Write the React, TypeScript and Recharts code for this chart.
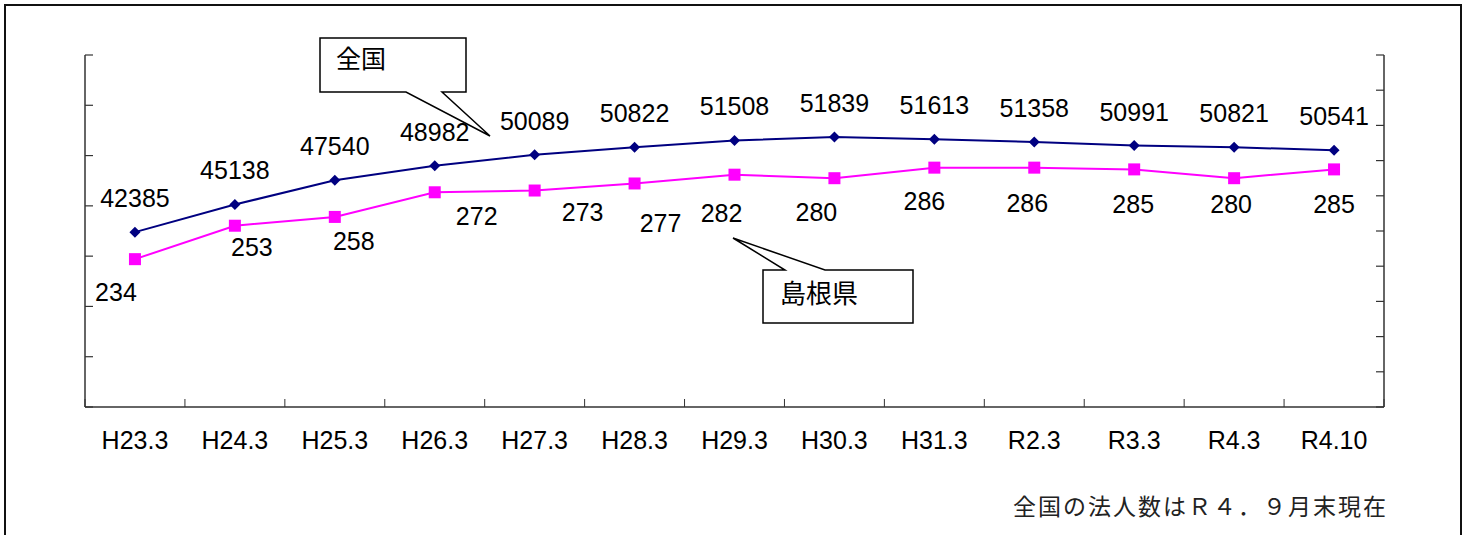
import React from 'react';
import { LineChart, Line, XAxis, YAxis, LabelList } from 'recharts';

// ---- data ----
const periods = ['H23.3', 'H24.3', 'H25.3', 'H26.3', 'H27.3', 'H28.3', 'H29.3', 'H30.3', 'H31.3', 'R2.3', 'R3.3', 'R4.3', 'R4.10'];
const nationalCounts = [42385, 45138, 47540, 48982, 50089, 50822, 51508, 51839, 51613, 51358, 50991, 50821, 50541];
const shimaneCounts = [234, 253, 258, 272, 273, 277, 282, 280, 286, 286, 285, 280, 285];
const nationalTicks = [25000, 30000, 35000, 40000, 45000, 50000, 55000, 60000];
const shimaneTicks = [150, 170, 190, 210, 230, 250, 270, 290, 310, 330, 350];
const nationalName = '全国';
const shimaneName = '島根県';
const footnote = '全国の法人数はＲ４．９月末現在';

// ---- layout (label nudges relative to each point, as placed in the original) ----
const shimaneLabelNudge: [number, number][] = [
  [-19, 33], [17, 21], [19, 24], [42, 24], [48, 21], [26, 40], [-13, 38],
  [-18, 34], [-10, 33], [-7, 35], [-1, 35], [-3, 26], [0, 35],
];
const NATIONAL_LABEL_DY = -34;

const CHART_W = 1469;
const CHART_H = 535;
const MARGIN = { top: 55, right: 85, bottom: 68, left: 85 };
const X_AXIS_H = 60;
const X_TICK_MARGIN = 33;
const PLOT_W = CHART_W - MARGIN.left - MARGIN.right;
const AXIS_COLOR = '#333';
const LABEL_FONT = '"Liberation Sans", Arial, sans-serif';
const CJK_FONT = '"Noto Sans CJK JP", sans-serif';

const data = periods.map((period, i) => ({
  period,
  national: nationalCounts[i],
  shimane: shimaneCounts[i],
}));

const CategoryTick = (props: any) => {
  const { x, y, payload, index } = props;
  const band = PLOT_W / periods.length;
  const axisY = y - X_TICK_MARGIN;
  return (
    <g>
      <line x1={x - band / 2} x2={x - band / 2} y1={axisY} y2={axisY - 8} stroke={AXIS_COLOR} strokeWidth={1} />
      {index === periods.length - 1 && (
        <line x1={x + band / 2} x2={x + band / 2} y1={axisY} y2={axisY - 8} stroke={AXIS_COLOR} strokeWidth={1} />
      )}
      <text x={x} y={y} textAnchor="middle" dominantBaseline="central" fontSize={25} fontFamily={LABEL_FONT} fill="#000">
        {payload.value}
      </text>
    </g>
  );
};

const EmptyTick = () => <g />;

const DiamondDot = (props: any) => {
  const { cx, cy, index } = props;
  if (cx == null || cy == null) return null;
  const r = 5.5;
  return (
    <polygon
      key={`d-${index}`}
      points={`${cx},${cy - r} ${cx + r},${cy} ${cx},${cy + r} ${cx - r},${cy}`}
      fill="#000080"
    />
  );
};

const SquareDot = (props: any) => {
  const { cx, cy, index } = props;
  if (cx == null || cy == null) return null;
  const s = 12;
  return <rect key={`s-${index}`} x={cx - s / 2} y={cy - s / 2} width={s} height={s} fill="#FF00FF" />;
};

const pt = (p: any) => ({
  x: p.x ?? p.viewBox?.x,
  y: p.y ?? p.viewBox?.y,
});

const nationalLabel = (p: any) => {
  const { x, y } = pt(p);
  if (x == null || y == null) return null;
  return (
    <text x={x} y={y + NATIONAL_LABEL_DY} textAnchor="middle" dominantBaseline="central" fontSize={25} fontFamily={LABEL_FONT} fill="#000">
      {p.value}
    </text>
  );
};

const shimaneLabel = (p: any) => {
  const { x, y } = pt(p);
  if (x == null || y == null) return null;
  const [dx, dy] = shimaneLabelNudge[p.index] ?? [0, 30];
  return (
    <text x={x + dx} y={y + dy} textAnchor="middle" dominantBaseline="central" fontSize={25} fontFamily={LABEL_FONT} fill="#000">
      {p.value}
    </text>
  );
};

export default function App() {
  return (
    <div style={{ position: 'absolute', left: 0, top: 0, width: CHART_W, height: CHART_H, overflow: 'hidden', background: '#fff' }}>
      <div style={{ position: 'absolute', left: 4, top: 4, width: 1454, height: 600, border: '2px solid #111' }} />
      <div style={{ position: 'absolute', left: 0, top: 0 }}>
        <LineChart width={CHART_W} height={CHART_H} data={data} margin={MARGIN} style={{ fontFamily: LABEL_FONT }}>
          <XAxis
            dataKey="period"
            scale="band"
            height={X_AXIS_H}
            interval={0}
            tickLine={false}
            tickSize={0}
            tickMargin={X_TICK_MARGIN}
            tick={<CategoryTick />}
            axisLine={{ stroke: AXIS_COLOR, strokeWidth: 1.5 }}
          />
          <YAxis
            yAxisId="national"
            orientation="left"
            mirror
            width={20}
            domain={[25000, 60000]}
            ticks={nationalTicks}
            interval={0}
            allowDataOverflow
            tick={<EmptyTick />}
            tickSize={8}
            tickLine={{ stroke: AXIS_COLOR, strokeWidth: 1.2 }}
            axisLine={{ stroke: AXIS_COLOR, strokeWidth: 1.5 }}
          />
          <YAxis
            yAxisId="shimane"
            orientation="right"
            mirror
            width={20}
            domain={[150, 350]}
            ticks={shimaneTicks}
            interval={0}
            allowDataOverflow
            tick={<EmptyTick />}
            tickSize={8}
            tickLine={{ stroke: AXIS_COLOR, strokeWidth: 1.2 }}
            axisLine={{ stroke: AXIS_COLOR, strokeWidth: 1.5 }}
          />
          <Line
            yAxisId="national"
            dataKey="national"
            name={nationalName}
            stroke="#000080"
            strokeWidth={2}
            dot={<DiamondDot />}
            activeDot={false}
            isAnimationActive={false}
          >
            <LabelList dataKey="national" content={nationalLabel} />
          </Line>
          <Line
            yAxisId="shimane"
            dataKey="shimane"
            name={shimaneName}
            stroke="#FF00FF"
            strokeWidth={2}
            dot={<SquareDot />}
            activeDot={false}
            isAnimationActive={false}
          >
            <LabelList dataKey="shimane" content={shimaneLabel} />
          </Line>
        </LineChart>
      </div>
      <svg width={CHART_W} height={CHART_H} style={{ position: 'absolute', left: 0, top: 0, pointerEvents: 'none' }}>
        <path
          d="M320,38 H466 V92 H442 L490,136 L406,92 H320 Z"
          fill="#fff"
          stroke="#000"
          strokeWidth={1.5}
        />
        <text x={336} y={57} dominantBaseline="central" fontSize={25} fontFamily={CJK_FONT} fill="#000">
          {nationalName}
        </text>
        <path
          d="M763,270 H785 L733,238 L825,270 H913 V323 H763 Z"
          fill="#fff"
          stroke="#000"
          strokeWidth={1.5}
        />
        <text x={780} y={291} dominantBaseline="central" fontSize={26} fontFamily={CJK_FONT} fill="#000">
          {shimaneName}
        </text>
        <text x={1388} y={505} textAnchor="end" dominantBaseline="central" fontSize={23} letterSpacing={2} fontFamily={CJK_FONT} fill="#222">
          {footnote}
        </text>
      </svg>
    </div>
  );
}
